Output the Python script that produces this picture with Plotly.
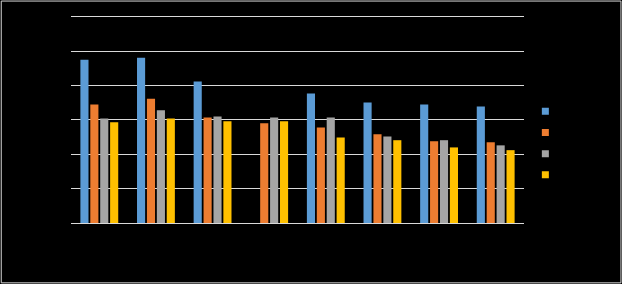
import plotly.graph_objects as go

categories = ["A", "B", "C", "D", "E", "F", "G", "H"]
series_names = ["Series 1", "Series 2", "Series 3", "Series 4"]
s1 = [47.5, 48.1, 41.2, None, 37.7, 35.1, 34.5, 33.9]
s2 = [34.5, 36.2, 30.7, 29.0, 27.8, 25.8, 23.8, 23.5]
s3 = [30.4, 32.8, 31.0, 30.7, 30.7, 25.2, 24.1, 22.6]
s4 = [29.3, 30.4, 29.6, 29.6, 24.9, 24.1, 22.0, 21.2]
y_ticks = [0, 10, 20, 30, 40, 50, 60]
y_tick_labels = ["0%", "10%", "20%", "30%", "40%", "50%", "60%"]

colors = ["#5B9BD5", "#ED7D31", "#A5A5A5", "#FFC000"]
series = [s1, s2, s3, s4]

fig = go.Figure()
for name, vals, c in zip(series_names, series, colors):
    fig.add_trace(go.Bar(x=categories, y=vals, name=name, marker_color=c,
                         marker_line_width=0, showlegend=False))
for name, c in zip(series_names, colors):
    fig.add_trace(go.Scatter(x=[None], y=[None], mode="markers", name=name,
                             marker=dict(symbol="square", size=7, color=c)))

fig.update_layout(
    width=622, height=284,
    margin=dict(l=71, r=98, t=10, b=61, autoexpand=False),
    paper_bgcolor="#000000", plot_bgcolor="#000000",
    barmode="group", bargap=0.30, bargroupgap=0.18,
    font=dict(family="Calibri, Liberation Sans, sans-serif", size=12, color="#000000"),
    xaxis=dict(showgrid=False, showline=False, ticks="", tickfont=dict(color="#000000")),
    yaxis=dict(range=[0, 62], tickvals=y_ticks, ticktext=y_tick_labels,
               showgrid=True, gridcolor="#d9d9d9", gridwidth=1,
               zeroline=True, zerolinecolor="#d9d9d9", zerolinewidth=1,
               showline=False, ticks="",
               tickfont=dict(color="#000000")),
    legend=dict(x=1.003, xanchor="left", y=0.375, yanchor="middle",
                font=dict(size=14, color="#000000"), bgcolor="rgba(0,0,0,0)",
                tracegroupgap=0),
    shapes=[dict(type="rect", xref="paper", yref="paper", x0=-0.154, x1=1.214,
                 y0=-0.281, y1=1.042, line=dict(color="#d9d9d9", width=1))],
)
fig.write_html("out.html")
